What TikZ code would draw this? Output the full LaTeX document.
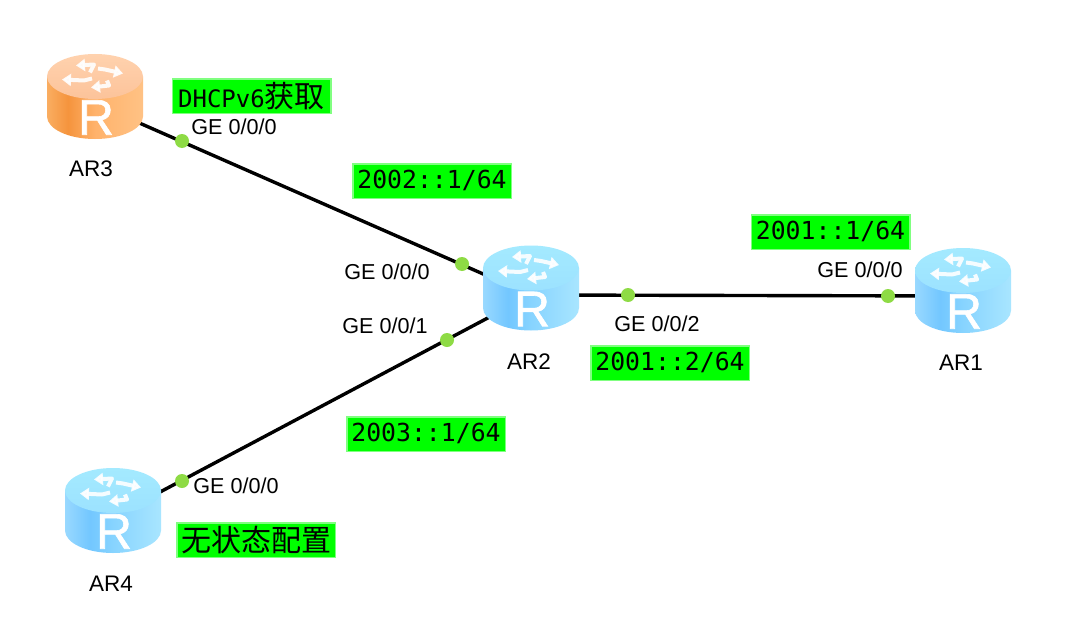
\documentclass[tikz,border=0pt]{standalone}
\usepackage{fontspec}
\setmainfont{Liberation Sans}
\newfontfamily\monof{DejaVu Sans Mono}
\newfontfamily\cjkf{Noto Sans CJK SC}
\newfontfamily\rfont[FakeBold=1.2]{Liberation Sans}
\usetikzlibrary{arrows.meta}
\definecolor{lblgreen}{HTML}{00FF00}
\definecolor{tagedge}{HTML}{80FF80}
\definecolor{dotgreen}{HTML}{8EDB45}
\definecolor{bT}{HTML}{A4EAFF}\definecolor{bU}{HTML}{9CE2FF}
\definecolor{oT}{HTML}{FFD2AE}\definecolor{oU}{HTML}{FCC39A}
\pgfdeclarehorizontalshading{sideb}{100bp}{
  rgb(0bp)=(0.60,0.85,1);rgb(25bp)=(0.60,0.85,1);rgb(38bp)=(0.45,0.78,1);rgb(50bp)=(0.53,0.83,1);rgb(75bp)=(0.66,0.90,1);rgb(100bp)=(0.66,0.90,1)}
\pgfdeclarehorizontalshading{sideo}{100bp}{
  rgb(0bp)=(0.98,0.68,0.38);rgb(25bp)=(0.98,0.68,0.38);rgb(36bp)=(0.96,0.58,0.24);rgb(50bp)=(1,0.70,0.42);rgb(75bp)=(1,0.76,0.52);rgb(100bp)=(1,0.76,0.52)}
\tikzset{
  hub/.style={inner sep=0pt,minimum size=0pt},
  link/.style={draw=black,line width=3.4pt},
  portdot/.style={circle,fill=dotgreen,inner sep=0pt,minimum size=14pt},
  iface/.style={font=\fontsize{21.6}{24}\selectfont,inner sep=0pt},
  devname/.style={font=\fontsize{22.5}{24}\selectfont,inner sep=0pt},
  tag/.style={fill=lblgreen,draw=tagedge,line width=1.5pt,inner sep=0pt,minimum width=158.5pt,minimum height=34.5pt,
    font=\monof\fontsize{24.8}{28}\selectfont},
  iconarrow/.style={draw=white,opacity=.9,line width=4pt,line join=round,-{Triangle[length=9pt,width=12pt]}},
}
% body of a router: centre x, centre y, colour prefix (side shading side<prefix>)
\newcommand{\routerbody}[3]{%
  \begin{scope}[shift={(#1,#2)}]
    \shade[shading=side#3]
      (-48,-20) -- (-48,20) arc[start angle=180,end angle=0,x radius=48,y radius=22.5]
      -- (48,-20) -- cycle;
    \shade[top color=#3T,bottom color=#3U]
      (0,-20) ellipse[x radius=48,y radius=22.5];
    \begin{scope}[shift={(0,-20)}]
      \draw[iconarrow] (-5,-4) -- (-1,-12) -- (-19,-11);
      \draw[iconarrow] (3,-8) -- (10,-7) -- (28,-3);
      \draw[iconarrow] (-3,2) -- (-11,4) -- (-33,3);
      \draw[iconarrow] (12,4) -- (14,9) -- (-4,11);
    \end{scope}
    \node[text=white,inner sep=0pt,font=\rfont\fontsize{50}{50}\selectfont] at (1,21) {R};
  \end{scope}}
\begin{document}
\begin{tikzpicture}[x=1pt,y=-1pt]
\useasboundingbox (0,0) rectangle (1081,642);
\fill[white] (0,0) rectangle (1081,642);
% hubs where the links converge
\node[hub] (ar3) at (95,103.5) {};
\node[hub] (ar2) at (531,295) {};
\node[hub] (ar1) at (963,296) {};
\node[hub] (ar4) at (113,517) {};
% links
\draw[link] (ar3) -- (ar2);
\draw[link] (ar4) -- (ar2);
\draw[link] (ar2) -- (ar1);
% routers
\routerbody{95}{96.5}{o}
\routerbody{531}{288}{b}
\routerbody{963}{290.5}{b}
\routerbody{113}{510.5}{b}
% port dots
\node[portdot] (p3a) at (182,141) {};
\node[portdot] (p2a) at (462,264) {};
\node[portdot] (p2b) at (447,340) {};
\node[portdot] (p4a) at (182,481) {};
\node[portdot] (p2c) at (628,295) {};
\node[portdot] (p1a) at (888,296) {};
% interface labels
\node[iface] (i3) at (234,127) {GE 0/0/0};
\node[iface] (i2a) at (387,272) {GE 0/0/0};
\node[iface] (i2b) at (385,326) {GE 0/0/1};
\node[iface] (i2c) at (657,324) {GE 0/0/2};
\node[iface] (i1) at (860,270) {GE 0/0/0};
\node[iface] (i4) at (236,486) {GE 0/0/0};
% device names
\node[devname] (n3) at (91,169) {AR3};
\node[devname] (n2) at (529,362) {AR2};
\node[devname] (n1) at (961,363) {AR1};
\node[devname] (n4) at (111,584) {AR4};
% green tags
\node[tag] (t3) at (251.5,96) {\raisebox{2pt}{\fontsize{24}{28}\selectfont DHCPv6}{\cjkf\fontsize{30}{30}\selectfont\raisebox{2pt}{获取}}};
\node[tag] (t4) at (256,540) {\cjkf\fontsize{30}{30}\selectfont\raisebox{2pt}{无状态配置}};
\node[tag] (t2a) at (432,181) {\raisebox{2.5pt}{2002::1/64}};
\node[tag] (t1) at (830.5,232) {\raisebox{2.5pt}{2001::1/64}};
\node[tag] (t2b) at (670,363) {\raisebox{2.5pt}{2001::2/64}};
\node[tag] (t2c) at (426,434) {\raisebox{2.5pt}{2003::1/64}};
\end{tikzpicture}
\end{document}
